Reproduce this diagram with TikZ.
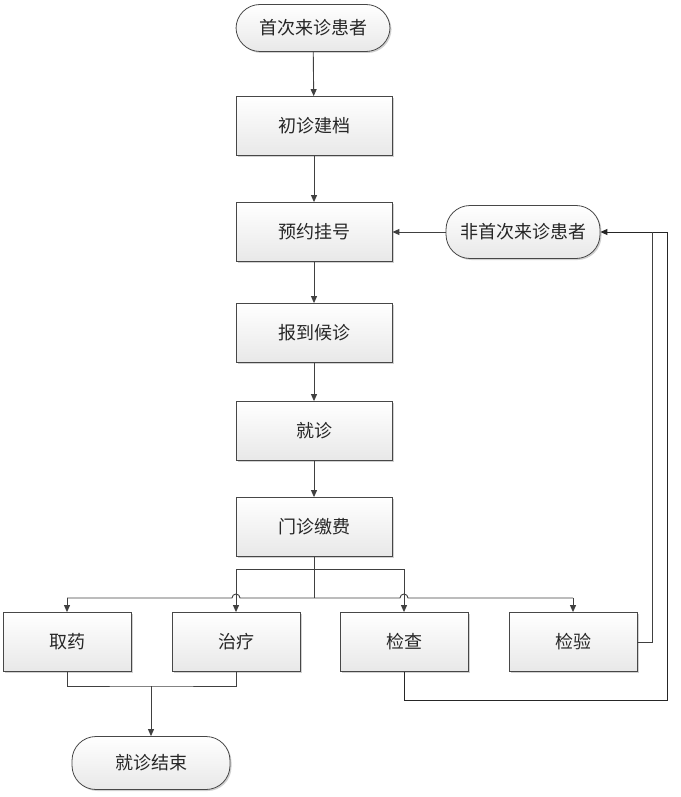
\documentclass[tikz,border=0pt]{standalone}
\usepackage{fontspec}
\newfontfamily\cjk{Noto Sans CJK SC}
\usetikzlibrary{arrows.meta,shadows}
\begin{document}
\begin{tikzpicture}[x=1pt,y=-1pt,
  box/.style={draw=black!72, line width=0.8pt, top color=white, bottom color=black!9,
    minimum width=156pt, minimum height=59pt, inner sep=0pt,
    font=\cjk\fontsize{18}{21}\selectfont, text=black!85,
    drop shadow={shadow xshift=1.5pt, shadow yshift=-1.5pt, fill=black!30, opacity=0.6}},
  sbox/.style={box, minimum width=128pt},
  term/.style={box, rounded corners=24pt},
  ln/.style={draw=black!75, line width=0.9pt},
  arr/.style={ln, -{Triangle[length=7pt,width=6pt]}}]
\useasboundingbox (0,0) rectangle (680,797);
\node[term, minimum width=154pt, minimum height=47pt] (start) at (313,28) {首次来诊患者};
\node[box] (b1) at (314,126) {初诊建档};
\node[box] (b2) at (314,232) {预约挂号};
\node[term, minimum width=154pt, minimum height=53pt] (re) at (523,232) {非首次来诊患者};
\node[box] (b3) at (314,333) {报到候诊};
\node[box] (b4) at (314,431) {就诊};
\node[box] (b5) at (314,527) {门诊缴费};
\node[sbox] (c1) at (67,642) {取药};
\node[sbox] (c2) at (236,642) {治疗};
\node[sbox] (c3) at (404,642) {检查};
\node[sbox] (c4) at (573,642) {检验};
\node[term, minimum width=158pt, minimum height=53pt] (end) at (151,763) {就诊结束};
\coordinate (jl) at (67,598);
\coordinate (jr) at (573,598);
\coordinate (u1) at (236,569);
\coordinate (u2) at (404,569);
\coordinate (m) at (151,686);
\coordinate (r1) at (667,700);
\coordinate (r2) at (652,232);
\draw[arr] (start) -- (b1);
\draw[arr] (b1) -- (b2);
\draw[arr] (b2) -- (b3);
\draw[arr] (b3) -- (b4);
\draw[arr] (b4) -- (b5);
\draw[arr] (re) -- (b2);
\draw[ln] (b5.south) -- (b5.south |- jl);
\draw[ln] (u1) -- (u2);
\draw[arr] (u1) -- (c2);
\draw[arr] (u2) -- (c3);
\draw[ln] (jl) -- (232,598) arc[start angle=180, end angle=360, radius=4] -- (400,598)
  arc[start angle=180, end angle=360, radius=4] -- (jr);
\draw[arr] (jl) -- (c1);
\draw[arr] (jr) -- (c4);
\draw[ln] (c1.south) |- (m) -| (c2.south);
\draw[arr] (m) -- (end);
\draw[arr, draw=black!85] (c3.south) |- (r1) |- (re.east);
\draw[ln] (c4.east) -| (r2);
\end{tikzpicture}
\end{document}
